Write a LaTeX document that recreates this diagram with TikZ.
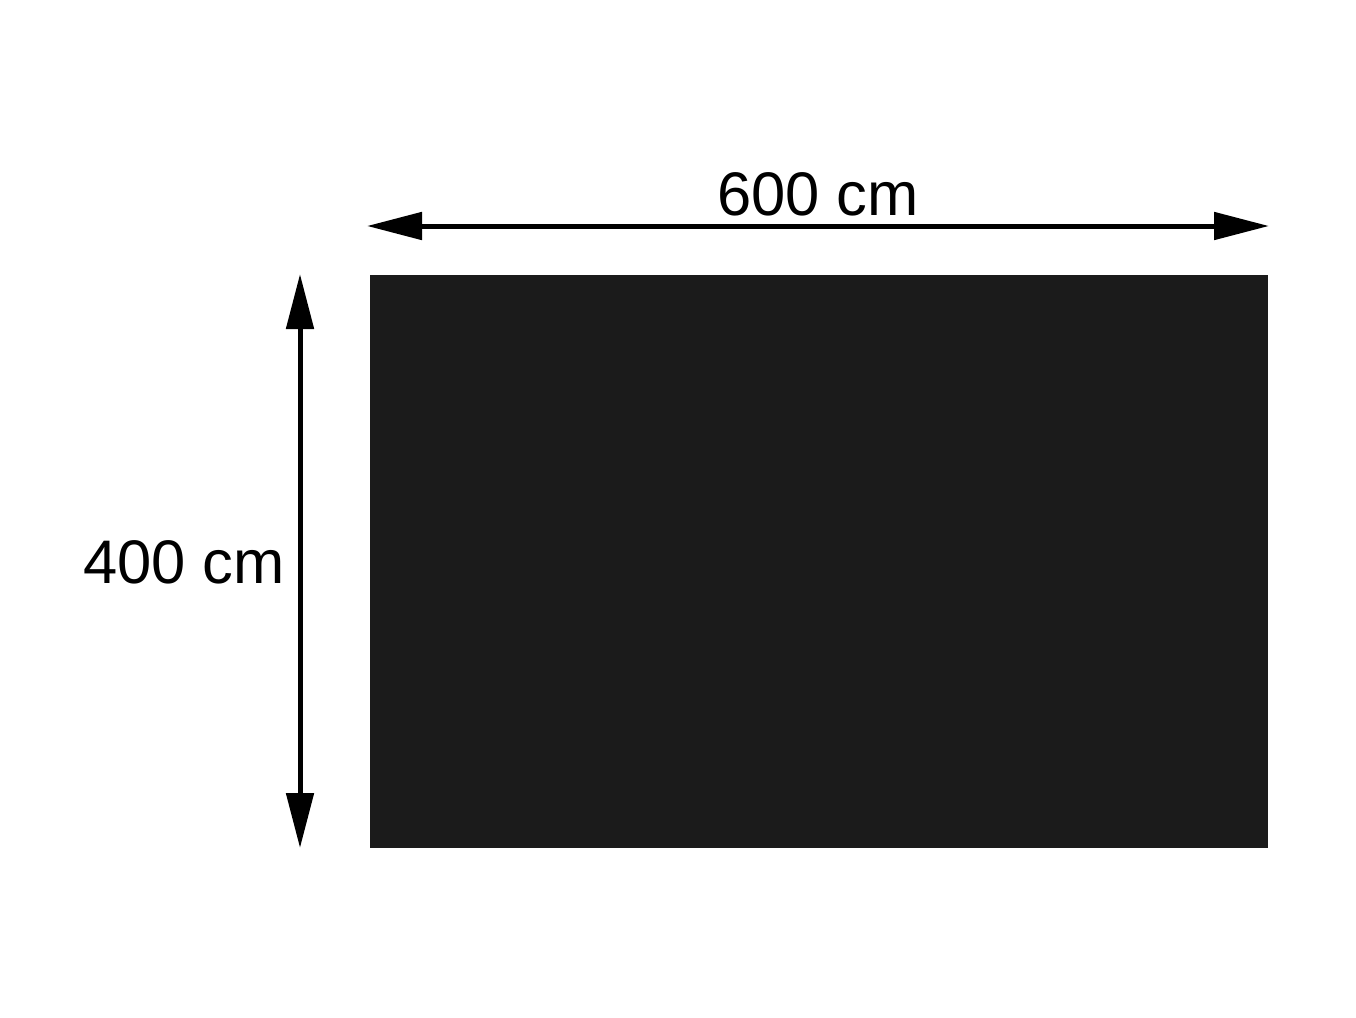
\documentclass[tikz,border=0pt]{standalone}
\usepackage{fontspec}
\setmainfont{Liberation Sans}
\usetikzlibrary{arrows.meta}
\definecolor{rectcol}{RGB}{27,27,27}
\tikzset{
  dimline/.style={line width=5pt, black, {Triangle[length=55pt,width=27pt]}-{Triangle[length=55pt,width=27pt]}},
  dimlabel/.style={inner sep=0pt, anchor=base, font=\fontsize{61.5}{70}\selectfont},
  slab/.style={fill=rectcol, draw=none}
}
\begin{document}
\begin{tikzpicture}[x=1pt,y=-1pt]
\useasboundingbox (0,0) rectangle (1356,1017);
\fill[slab] (370,275) rectangle (1268,848);
\coordinate (hl) at (367,226);
\coordinate (hr) at (1269,226);
\coordinate (vt) at (300,274);
\coordinate (vb) at (300,848);
\draw[dimline] (hl) -- (hr);
\draw[dimline] (vt) -- (vb);
\node[dimlabel] (w) at (818,215) {600 cm};
\node[dimlabel] (h) at (184,583) {400 cm};
\end{tikzpicture}
\end{document}
